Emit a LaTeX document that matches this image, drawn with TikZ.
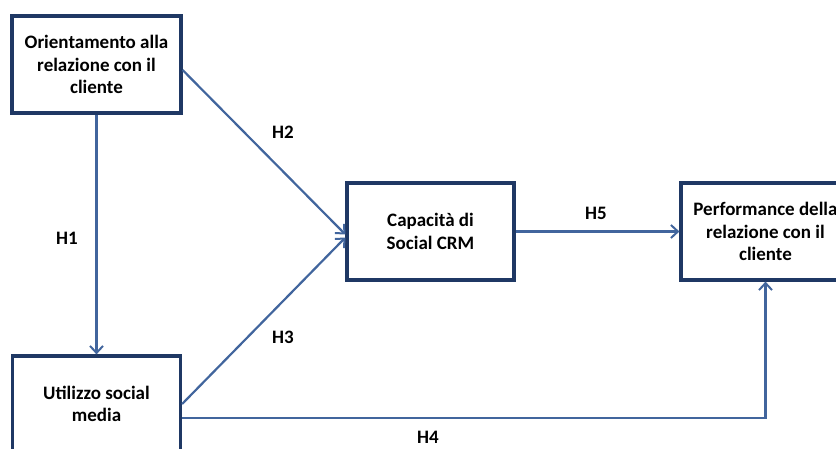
\documentclass[tikz,border=0pt]{standalone}
\usepackage{fontspec}
\setmainfont{Carlito}
\usetikzlibrary{arrows.meta,calc}
\definecolor{boxline}{HTML}{1F3864}
\definecolor{arrowc}{HTML}{41659D}
\begin{document}
\begin{tikzpicture}[x=1pt,y=-1pt,
  box/.style={draw=boxline,line width=3.2pt,fill=white,align=center,
    inner sep=0pt,font=\fontsize{19}{22.5}\selectfont\bfseries},
  conn/.style={draw=arrowc,line width=2.2pt,-{Straight Barb[length=7pt,width=13pt,line width=2pt]}},
  lab/.style={font=\fontsize{19}{22}\selectfont\bfseries}]
\useasboundingbox (0,0) rectangle (836,449);
\clip (0,0) rectangle (836,449);
\node[box,minimum width=169pt,minimum height=97pt] (o) at (96.5,64.5)
  {Orientamento alla\\relazione con il\\cliente};
\node[box,minimum width=168pt,minimum height=96pt] (u) at (96.5,404)
  {Utilizzo social\\media};
\node[box,minimum width=167pt,minimum height=97pt] (c) at (430.5,231.5)
  {Capacità di\\Social CRM};
\node[box,minimum width=169pt,minimum height=97pt] (p) at (765.5,231.5)
  {Performance della\\relazione con il\\cliente};
\draw[conn] (o.south) -- (u.north);
\draw[conn] ([yshift=-5.5pt]o.east) -- ([yshift=-3pt]c.west);
\draw[conn] (u.east) -- ([yshift=-6pt]c.west);
\draw[conn] (c.east) -- (p.west);
\draw[conn] ([yshift=-14pt]u.east) -| (p.south);
\node[lab] (h1) at (67,238) {H1};
\node[lab] (h2) at (283,132) {H2};
\node[lab] (h3) at (283,337) {H3};
\node[lab] (h5) at (596,213) {H5};
\node[lab] (h4) at (428,437) {H4};
\end{tikzpicture}
\end{document}
